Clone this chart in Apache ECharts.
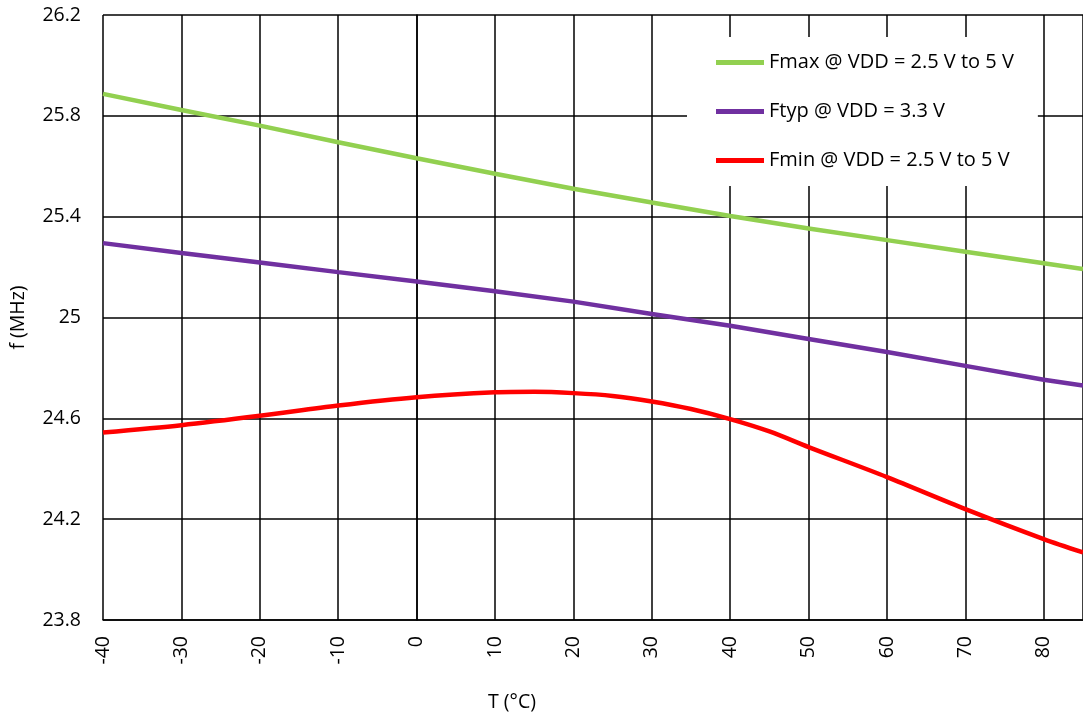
<!DOCTYPE html>
<html>
<head>
<meta charset="utf-8">
<script src="https://cdn.jsdelivr.net/npm/echarts@6/dist/echarts.min.js"></script>
<style>
html,body{margin:0;padding:0;background:#fff;}
#c{width:1083px;height:718px;}
</style>
</head>
<body>
<div id="c"></div>
<script>
// Temperatures (°C)
const temps = [-40, -30, -20, -10, 0, 10, 20, 30, 40, 50, 60, 70, 80, 85];
const tempsMin = [-40, -30, -20, -10, 0, 10, 15, 20, 25, 30, 35, 40, 45, 50, 60, 70, 80, 85];
// Frequencies (MHz)
const fmax = [25.887, 25.823, 25.761, 25.695, 25.632, 25.570, 25.511, 25.456, 25.403, 25.353, 25.307, 25.261, 25.215, 25.192];
const ftyp = [25.295, 25.256, 25.218, 25.180, 25.143, 25.104, 25.063, 25.014, 24.967, 24.915, 24.863, 24.808, 24.753, 24.730];
const fmin = [24.544, 24.573, 24.610, 24.651, 24.684, 24.703, 24.705, 24.700, 24.689, 24.667, 24.637, 24.597, 24.548, 24.486, 24.367, 24.240, 24.121, 24.068];
const names = ['Fmax @ VDD = 2.5 V to 5 V', 'Ftyp @ VDD = 3.3 V', 'Fmin @ VDD = 2.5 V to 5 V'];
const colors = ['#92D050', '#7030A0', '#FF0000'];
const yMin = 23.8, yMax = 26.2, yStep = 0.4;
const xMin = -40, xMax = 85, xStep = 10;

const FONT = '"Open Sans", "Noto Sans", sans-serif';
const FS = 19.5;
const FSL = 20;
const shift = v => +(v - yMin).toFixed(4);
const pairs = (xs, ys) => xs.map((x, i) => [x, shift(ys[i])]);

const chart = echarts.init(document.getElementById('c'), null, {renderer: 'canvas'});
const lineS = {color: '#000', width: 1.5};
chart.setOption({
  animation: false,
  backgroundColor: '#fff',
  textStyle: {fontFamily: FONT},
  grid: {left: 102, top: 15, right: -1, bottom: 98, containLabel: false},
  xAxis: {
    type: 'value', min: xMin, max: xMax, interval: xStep,
    axisLine: {show: true, lineStyle: lineS},
    axisTick: {show: false},
    splitLine: {show: true, lineStyle: lineS},
    axisLabel: {rotate: 90, margin: 16, fontSize: FS, color: '#000', fontFamily: FONT, showMaxLabel: false}
  },
  yAxis: {
    type: 'value', min: 0, max: +(yMax - yMin).toFixed(4), interval: yStep,
    name: 'f (MHz)', nameLocation: 'middle', nameGap: 75, nameRotate: 90,
    nameTextStyle: {fontSize: FS, color: '#000', fontFamily: FONT},
    axisLine: {show: true, lineStyle: lineS},
    axisTick: {show: false},
    splitLine: {show: true, lineStyle: lineS},
    axisLabel: {
      margin: 22, fontSize: FS, color: '#000', fontFamily: FONT,
      formatter: v => String(+(v + yMin).toFixed(1))
    }
  },
  legend: {
    orient: 'vertical', left: 687, top: 37,
    padding: [15, 24, 15, 29], itemGap: 28,
    backgroundColor: '#fff',
    icon: 'rect', itemWidth: 48, itemHeight: 5,
    textStyle: {fontSize: FSL, color: '#000', fontFamily: FONT, lineHeight: 21},
    data: names
  },
  graphic: [{
    type: 'text', x: 512, y: 702,
    style: {text: 'T (°C)', fontSize: FS, fontFamily: FONT, fill: '#000', textAlign: 'center', textVerticalAlign: 'middle'}
  }],
  series: [
    {name: names[0], type: 'line', data: pairs(temps, fmax), showSymbol: false, smooth: false, lineStyle: {width: 4.5, color: colors[0]}, itemStyle: {color: colors[0]}},
    {name: names[1], type: 'line', data: pairs(temps, ftyp), showSymbol: false, smooth: false, lineStyle: {width: 4.5, color: colors[1]}, itemStyle: {color: colors[1]}},
    {name: names[2], type: 'line', data: pairs(tempsMin, fmin), showSymbol: false, smooth: 0.3, lineStyle: {width: 4.5, color: colors[2]}, itemStyle: {color: colors[2]}}
  ]
});
</script>
</body>
</html>
